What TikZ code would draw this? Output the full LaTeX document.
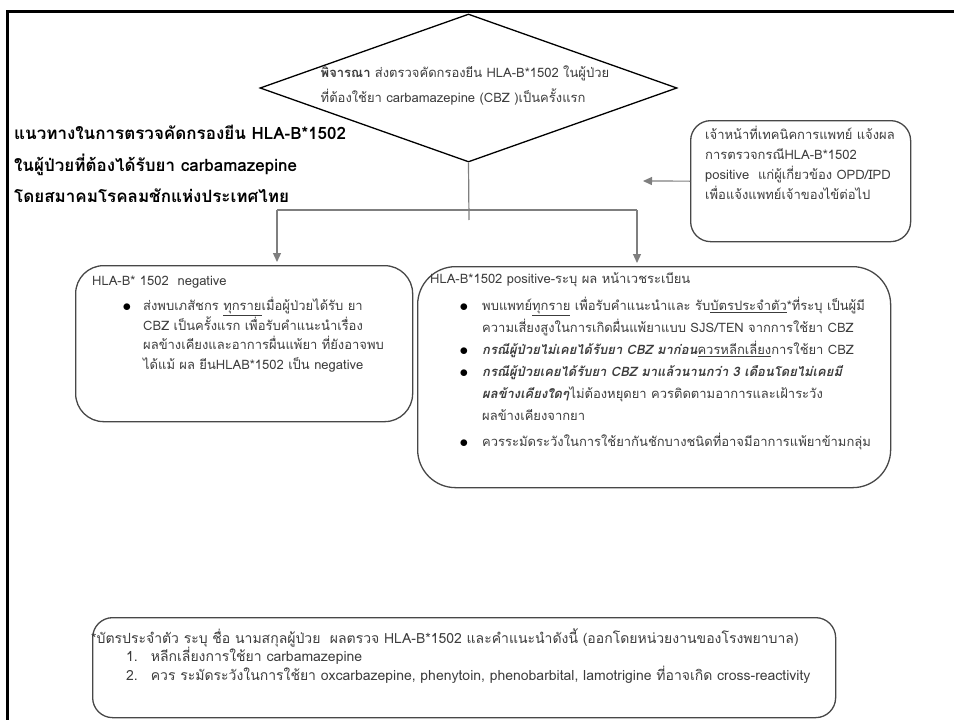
\documentclass[tikz,border=0pt]{standalone}
\usepackage{fontspec}
\setmainfont[Script=Thai]{Loma}
\usetikzlibrary{shapes.geometric,arrows.meta}
\definecolor{txt}{HTML}{3C3C3C}
\definecolor{edge}{HTML}{474747}
\definecolor{conn}{HTML}{7F7F7F}
\newcommand{\blt}[1]{\llap{\raisebox{-0.5pt}{\color{black}\fontsize{19}{19}\selectfont$\bullet$}\hspace{#1}}}
\begin{document}
\begin{tikzpicture}[x=1pt,y=-1pt,
  box/.style={draw=edge, line width=1.3pt, inner sep=0, anchor=north west},
  body/.style={text=txt, align=left, inner sep=0, anchor=north west, font=\fontsize{13}{21}\selectfont},
  conn/.style={draw=conn, line width=1.2pt},
  arr/.style={conn, -{Triangle[length=9pt,width=8pt]}, shorten >=3pt},
]
\useasboundingbox (0,0) rectangle (954,720);
\clip (0,0) rectangle (954,720);
\draw[line width=3pt] (7,740) -- (7,11) -- (970,11);

% decision diamond
\node[draw=black, line width=1.3pt, diamond, minimum width=417pt, minimum height=148pt, inner sep=0] (dia) at (468.5,88) {};
\node[body, anchor=center, font=\fontsize{13}{25}\selectfont] (diat) at (465,86)
  {\textbf{พิจารณา} ส่งตรวจคัดกรองยีน HLA-B*1502 ในผู้ป่วย\\ที่ต้องใช้ยา carbamazepine (CBZ )เป็นครั้งแรก};

% title
\node[body, text=black, font=\fontsize{17}{31.5}\bfseries] (title) at (14,125)
  {แนวทางในการตรวจคัดกรองยีน HLA-B*1502\\ในผู้ป่วยที่ต้องได้รับยา carbamazepine\\โดยสมาคมโรคลมชักแห่งประเทศไทย};

% lab box
\node[box, rounded corners=20pt, minimum width=220pt, minimum height=121pt] (lab) at (690,120) {};
\node[body, font=\fontsize{13}{20}\selectfont] (labt) at (705,126)
  {เจ้าหน้าที่เทคนิคการแพทย์ แจ้งผล\\การตรวจกรณีHLA-B*1502\\positive\ \ แก่ผู้เกี่ยวข้อง OPD/IPD\\เพื่อแจ้งแพทย์เจ้าของไข้ต่อไป};
\coordinate (labend) at (640,181);
\draw[arr] (lab.west) -- (labend);

% negative box
\node[box, rounded corners=28pt, minimum width=337pt, minimum height=156pt] (neg) at (75,265) {};
\node[body] (negh) at (92,276) {HLA-B* 1502\ \ negative};
\node[body, font=\fontsize{13}{19.5}\selectfont] (negt) at (143,297)
  {\blt{12pt}ส่งพบเภสัชกร \underline{ทุกราย}เมื่อผู้ป่วยได้รับ ยา\\CBZ เป็นครั้งแรก เพื่อรับคำแนะนำเรื่อง\\ผลข้างเคียงและอาการผื่นแพ้ยา ที่ยังอาจพบ\\ได้แม้ ผล ยีนHLAB*1502 เป็น negative};

% positive box
\node[box, rounded corners=38pt, minimum width=473pt, minimum height=221pt] (pos) at (417,266) {};
\node[body] (posh) at (430,272) {HLA-B*1502 positive-ระบุ ผล หน้าเวชระเบียน};
\node[body, font=\fontsize{13}{22}\selectfont] (post) at (482,297)
  {\blt{14pt}พบแพทย์\underline{ทุกราย} เพื่อรับคำแนะนำและ รับ\underline{บัตรประจำตัว}*ที่ระบุ เป็นผู้มี\\
   ความเสี่ยงสูงในการเกิดผื่นแพ้ยาแบบ SJS/TEN จากการใช้ยา CBZ\\
   \blt{14pt}\textbf{\textit{กรณีผู้ป่วยไม่เคยได้รับยา CBZ มาก่อน}}\underline{ควรหลีกเลี่ยง}การใช้ยา CBZ\\
   \blt{14pt}\textbf{\textit{กรณีผู้ป่วยเคยได้รับยา CBZ มาแล้วนานกว่า 3 เดือนโดยไม่เคยมี}}\\
   \textbf{\textit{ผลข้างเคียงใดๆ}}ไม่ต้องหยุดยา ควรติดตามอาการและเฝ้าระวัง\\
   ผลข้างเคียงจากยา\\[4pt]
   \blt{14pt}ควรระมัดระวังในการใช้ยากันชักบางชนิดที่อาจมีอาการแพ้ยาข้ามกลุ่ม};

% connectors
\coordinate (stubend) at (469,220);
\coordinate (hl) at (277,210);
\coordinate (hr) at (637,210);
\draw[conn] (dia.south) -- (stubend);
\draw[conn] (hl) -- (hr);
\draw[arr] (hl) -- (hl |- neg.north);
\draw[arr] (hr) -- (hr |- pos.north);

% card box
\node[box, rounded corners=20pt, minimum width=743pt, minimum height=100pt] (card) at (92,617) {};
\node[body, font=\fontsize{14}{18.5}\selectfont] (cardt) at (91,628)
  {*บัตรประจำตัว ระบุ ชื่อ นามสกุลผู้ป่วย\ \ ผลตรวจ HLA-B*1502 และคำแนะนำดังนี้ (ออกโดยหน่วยงานของโรงพยาบาล)\\
   \hspace{35pt}1.\hspace{13pt}หลีกเลี่ยงการใช้ยา carbamazepine\\
   \hspace{35pt}2.\hspace{13pt}ควร ระมัดระวังในการใช้ยา oxcarbazepine, phenytoin, phenobarbital, lamotrigine ที่อาจเกิด cross-reactivity};
\end{tikzpicture}
\end{document}
